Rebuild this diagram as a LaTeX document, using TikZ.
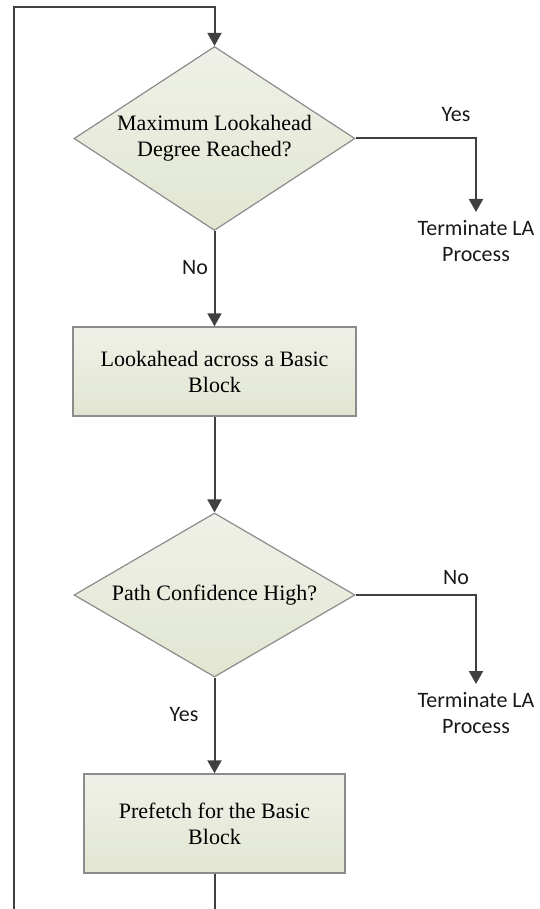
\documentclass[tikz,border=0pt]{standalone}
\usepackage{fontspec}
\setmainfont{Liberation Serif}
\newfontfamily\labelfont{Carlito}
\usetikzlibrary{shapes.geometric,arrows.meta}
\definecolor{fillTop}{HTML}{EFF1E8}
\definecolor{fillBot}{HTML}{E1E6D1}
\definecolor{edgeGray}{HTML}{8C8C8C}
\definecolor{lineGray}{HTML}{404040}
\tikzset{
  decision/.style={diamond, draw=edgeGray, line width=1.2pt, top color=fillTop, bottom color=fillBot,
    inner sep=0pt, aspect=1.5, align=center, font=\fontsize{22}{26}\selectfont},
  process/.style={rectangle, draw=edgeGray, line width=1.4pt, top color=fillTop, bottom color=fillBot,
    inner sep=0pt, align=center, font=\fontsize{22}{26}\selectfont},
  flow/.style={draw=lineGray, line width=2pt, -{Triangle[width=14pt,length=13pt]}},
  plainflow/.style={draw=lineGray, line width=2pt},
  lbl/.style={font=\labelfont\fontsize{22}{26}\selectfont, inner sep=0pt, align=center, text=black!90},
}
\begin{document}
\begin{tikzpicture}[x=1pt,y=-1pt]
\useasboundingbox (0,0) rectangle (540,909);

\node[decision, minimum width=281pt, minimum height=184pt] (d1) at (214.5,138.5)
  {Maximum Lookahead\\Degree Reached?};
\node[process, minimum width=283pt, minimum height=89pt] (b1) at (214.5,371.5)
  {Lookahead across a Basic\\Block};
\node[decision, minimum width=281pt, minimum height=164pt] (d2) at (214.5,595)
  {Path Confidence High?};
\node[process, minimum width=261pt, minimum height=99pt] (b2) at (214.5,823.5)
  {Prefetch for the Basic\\Block};

\node[lbl, anchor=north, inner ysep=8pt] (t1) at (476,212) {Terminate LA\\Process};
\node[lbl, anchor=north, inner ysep=8pt] (t2) at (476,684) {Terminate LA\\Process};

\node[lbl] (yes1) at (456,115) {Yes};
\node[lbl] (no1) at (195,268) {No};
\node[lbl] (no2) at (456,578) {No};
\node[lbl] (yes2) at (184,715) {Yes};

\coordinate (botC) at (214.5,909);
\coordinate (botL) at (14,909);
\coordinate (topC) at (214.5,7);

\draw[flow] (d1.east) -| (t1.north);
\draw[flow] (d1.south) -- (b1.north);
\draw[flow] (b1.south) -- (d2.north);
\draw[flow] (d2.east) -| (t2.north);
\draw[flow] (d2.south) -- (b2.north);
\draw[plainflow] (b2.south) -- (botC);
\draw[flow] (botL) |- (topC) -- (d1.north);
\end{tikzpicture}
\end{document}
